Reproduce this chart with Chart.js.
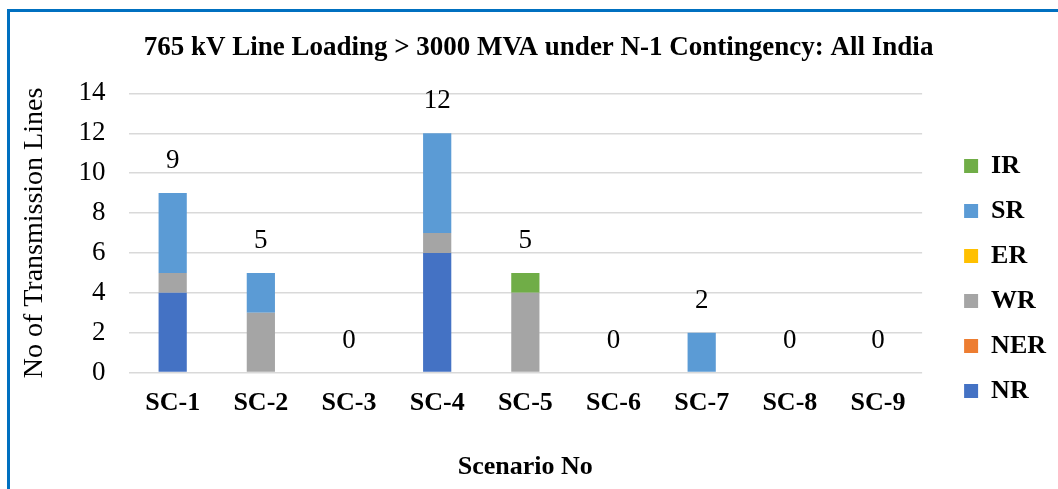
<!DOCTYPE html>
<html lang="en">
<head>
    <meta charset="UTF-8">
    <title>765 kV Line Loading</title>
    <script src="https://cdn.jsdelivr.net/npm/chart.js@4/dist/chart.umd.min.js"></script>
    <style>
        body { margin: 0; background: #fff; overflow: hidden; }
        #frame { position: absolute; left: 7px; top: 9px; width: 2000px; height: 2000px;
                 border-left: 3px solid #0070C0; border-top: 3px solid #0070C0; }
        #wrap { position: absolute; left: 0; top: 0; width: 1058px; height: 489px; }
    </style>
</head>
<body>
    <div id="frame"></div>
    <div id="wrap"><canvas id="chart"></canvas></div>

    <script>
        const scenarios = ["SC-1", "SC-2", "SC-3", "SC-4", "SC-5", "SC-6", "SC-7", "SC-8", "SC-9"];
        const nr  = [4, 0, 0, 6, 0, 0, 0, 0, 0];
        const ner = [0, 0, 0, 0, 0, 0, 0, 0, 0];
        const wr  = [1, 3, 0, 1, 4, 0, 0, 0, 0];
        const er  = [0, 0, 0, 0, 0, 0, 0, 0, 0];
        const sr  = [4, 2, 0, 5, 0, 0, 2, 0, 0];
        const ir  = [0, 0, 0, 0, 1, 0, 0, 0, 0];
        const yTicks = [0, 2, 4, 6, 8, 10, 12, 14];

        const serif = "'Liberation Serif', 'Times New Roman', serif";

        // totals written above each stack
        const totals = {
            id: "totals",
            afterDatasetsDraw(chart) {
                const ctx = chart.ctx;
                const x = chart.scales.x, y = chart.scales.y;
                ctx.save();
                ctx.font = "27px " + serif;
                ctx.fillStyle = "#000";
                ctx.textAlign = "center";
                ctx.textBaseline = "middle";
                scenarios.forEach((s, i) => {
                    let sum = 0;
                    chart.data.datasets.forEach(d => sum += d.data[i]);
                    ctx.fillText(sum, x.getPixelForValue(i), y.getPixelForValue(sum) - 32);
                });
                ctx.restore();
            }
        };

        // nudge legend and title, like the original
        const nudge = {
            id: "nudge",
            afterLayout(chart) {
                const lg = chart.legend;
                lg.left += 23; lg.right += 23;
                lg.top += 37; lg.bottom += 37;
                const tb = chart.titleBlock;
                tb.left += 13; tb.right += 13;
            }
        };

        new Chart(document.getElementById("chart"), {
            type: "bar",
            data: {
                labels: scenarios,
                datasets: [
                    { label: "NR", data: nr, backgroundColor: "#4472C4" },
                    { label: "NER", data: ner, backgroundColor: "#ED7D31" },
                    { label: "WR", data: wr, backgroundColor: "#A5A5A5" },
                    { label: "ER", data: er, backgroundColor: "#FFC000" },
                    { label: "SR", data: sr, backgroundColor: "#5B9BD5" },
                    { label: "IR", data: ir, backgroundColor: "#70AD47" }
                ]
            },
            options: {
                responsive: true,
                maintainAspectRatio: false,
                animation: false,
                layout: { padding: { left: 18, right: 25, top: 0, bottom: 6 } },
                datasets: { bar: { categoryPercentage: 1, barPercentage: 0.32 } },
                plugins: {
                    title: {
                        display: true,
                        text: "765 kV Line Loading > 3000 MVA under N-1 Contingency: All India",
                        color: "#000",
                        font: { family: serif, size: 27, weight: "bold" },
                        padding: { top: 32, bottom: 29 }
                    },
                    legend: {
                        position: "right",
                        reverse: true,
                        labels: {
                            color: "#000",
                            font: { family: serif, size: 26, weight: "bold" },
                            boxWidth: 14,
                            boxHeight: 14,
                            padding: 19
                        }
                    },
                    tooltip: { enabled: false }
                },
                scales: {
                    x: {
                        stacked: true,
                        grid: { display: false },
                        border: { display: false },
                        ticks: { color: "#000", padding: 7, font: { family: serif, size: 26, weight: "bold" } },
                        title: { display: true, text: "Scenario No", color: "#000", padding: { top: 26, bottom: 0 },
                                 font: { family: serif, size: 26, weight: "bold" } }
                    },
                    y: {
                        stacked: true,
                        min: 0,
                        max: 14,
                        afterBuildTicks(s) { s.ticks = yTicks.map(v => ({ value: v })); },
                        grid: { color: "#d9d9d9", lineWidth: 1.5, drawTicks: false },
                        border: { display: false },
                        ticks: { color: "#000", padding: 23, font: { family: serif, size: 27 } },
                        title: { display: true, text: "No of Transmission Lines", color: "#000", padding: { top: 0, bottom: 4 },
                                 font: { family: serif, size: 28 } }
                    }
                }
            },
            plugins: [totals, nudge]
        });
    </script>
</body>
</html>
